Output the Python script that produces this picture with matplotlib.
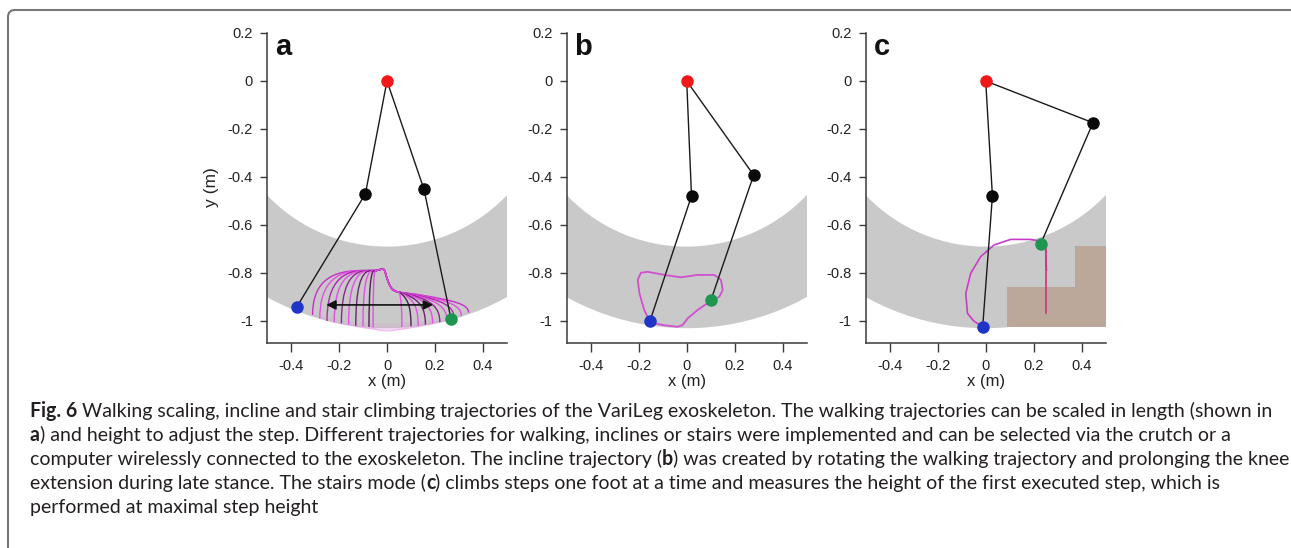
import matplotlib
matplotlib.use('Agg')
import matplotlib.pyplot as plt
from matplotlib.patches import Wedge, Polygon, FancyBboxPatch, PathPatch
from matplotlib.path import Path
from matplotlib.transforms import IdentityTransform

# ---- data (metres, hip at the origin) ----
x_ticks = [-0.4, -0.2, 0, 0.2, 0.4]
x_tick_labels = ['-0.4', '-0.2', '0', '0.2', '0.4']
y_ticks = [0.2, 0, -0.2, -0.4, -0.6, -0.8, -1.0]
y_tick_labels = ['0.2', '0', '-0.2', '-0.4', '-0.6', '-0.8', '-1']

# reachable workspace of the foot (annulus around the hip)
workspace_r_outer = 1.03
workspace_r_inner = 0.69

# leg posture: hip, knee1, foot1, knee2, foot2
legs_a = {'hip': (0, 0), 'knee1': (-0.09, -0.47), 'foot1': (-0.375, -0.94),
          'knee2': (0.154, -0.451), 'foot2': (0.267, -0.993)}
legs_b = {'hip': (0, 0), 'knee1': (0.02, -0.479), 'foot1': (-0.153, -1.0),
          'knee2': (0.279, -0.392), 'foot2': (0.101, -0.913)}
legs_c = {'hip': (0, 0), 'knee1': (0.028, -0.479), 'foot1': (-0.0125, -1.024),
          'knee2': (0.447, -0.174), 'foot2': (0.229, -0.679)}

# panel a: family of scaled walking trajectories
walk_rear_x = [-0.31, -0.28, -0.25, -0.22, -0.19, -0.16, -0.13, -0.10, -0.075, -0.058]
walk_rear_y = [-0.975, -0.99, -1.0, -1.005, -1.01, -1.015, -1.02, -1.022, -1.025, -1.027]
walk_front_x = [0.34, 0.31, 0.28, 0.25, 0.22, 0.19, 0.16, 0.13, 0.10, 0.062]
walk_front_y = [-0.965, -0.98, -0.99, -1.0, -1.005, -1.01, -1.015, -1.02, -1.022, -1.025]
walk_top = (-0.045, -0.79)
walk_peak = (-0.02, -0.775)
walk_knee_dip = (0.05, -0.88)
walk_front_top_y = -0.915
stride_arrow = (-0.253, 0.192, -0.933)

# panel b: incline trajectory (closed loop)
incline_x = [-0.155, -0.177, -0.197, -0.204, -0.191, -0.163, -0.093, -0.024, 0.046, 0.115,
             0.143, 0.150, 0.136, 0.095, 0.046, 0.004, -0.017, -0.038, -0.093, -0.134, -0.155]
incline_y = [-0.999, -0.954, -0.885, -0.829, -0.799, -0.795, -0.808, -0.818, -0.808, -0.808,
             -0.829, -0.871, -0.899, -0.920, -0.954, -0.989, -1.017, -1.024, -1.018, -1.010, -0.999]

# panel c: stair trajectory and the stairs
stair_x = [-0.0125, -0.05, -0.076, -0.083, -0.0625, -0.021, 0.035, 0.104, 0.188, 0.236,
           0.250, 0.253]
stair_y = [-1.024, -1.0, -0.968, -0.885, -0.801, -0.732, -0.683, -0.660, -0.660, -0.669,
           -0.704, -0.7875]
stair_drop_x = [0.253, 0.253]
stair_drop_y = [-0.70, -0.968]
steps_x = [0.09, 0.09, 0.371, 0.371, 0.5, 0.5]
steps_y = [-1.024, -0.857, -0.857, -0.6875, -0.6875, -1.024]

caption_lines = [
    [('Fig. 6', True), (' Walking scaling, incline and stair climbing trajectories of the VariLeg '
                        'exoskeleton. The walking trajectories can be scaled in length (shown in', False)],
    [('a', True), (') and height to adjust the step. Different trajectories for walking, inclines or '
                   'stairs were implemented and can be selected via the crutch or a', False)],
    [('computer wirelessly connected to the exoskeleton. The incline trajectory (', False), ('b', True),
     (') was created by rotating the walking trajectory and prolonging the knee', False)],
    [('extension during late stance. The stairs mode (', False), ('c', True),
     (') climbs steps one foot at a time and measures the height of the first executed step, which is',
      False)],
    [('performed at maximal step height', False)],
]

W, H = 1291, 548
plt.rcParams['font.family'] = ['Liberation Sans', 'DejaVu Sans']

fig = plt.figure(figsize=(W / 100, H / 100), dpi=100)

BAND = '#c9c9c9'
AX_COL = '#3a3a3a'


def make_axes(left_px, letter, ylabel=False):
    ax = fig.add_axes([left_px / W, 1 - 343 / H, 240 / W, 310 / H])
    ax.set_xlim(-0.5, 0.5)
    ax.set_ylim(-1.0917, 0.2)
    for s in ['top', 'right']:
        ax.spines[s].set_visible(False)
    for s in ['left', 'bottom']:
        ax.spines[s].set_color(AX_COL)
        ax.spines[s].set_linewidth(1.1)
    ax.set_xticks(x_ticks, labels=x_tick_labels)
    ax.set_yticks(y_ticks, labels=y_tick_labels)
    ax.tick_params(axis='x', direction='out', length=6.5, width=1.0, color=AX_COL,
                   labelsize=10.5, pad=5, labelcolor='#222222')
    ax.tick_params(axis='y', direction='out', length=5, width=1.0, color=AX_COL,
                   labelsize=10.5, pad=5, labelcolor='#222222')
    ax.patch.set_visible(False)
    ax.text(0.5, -0.1226, 'x (m)', transform=ax.transAxes, ha='center', va='center',
            fontsize=12, color='#222222')
    if ylabel:
        ax.text(-0.233, 0.503, 'y (m)', transform=ax.transAxes, ha='center', va='center',
                rotation=90, fontsize=12.5, color='#222222')
    ax.text(0.068, 0.955, letter, transform=ax.transAxes, ha='center', va='center',
            fontsize=21, fontweight='bold', color='#111111')
    band = Wedge((0, 0), workspace_r_outer, 180, 360,
                 width=workspace_r_outer - workspace_r_inner, facecolor=BAND,
                 edgecolor='none', zorder=0)
    ax.add_patch(band)
    return ax


def draw_legs(ax, legs):
    hx, hy = legs['hip']
    for k, f in [('knee1', 'foot1'), ('knee2', 'foot2')]:
        ax.plot([hx, legs[k][0], legs[f][0]], [hy, legs[k][1], legs[f][1]],
                color='#1a1a1a', lw=1.0, zorder=4)
        ax.plot(*legs[k], 'o', color='#0a0a0a', ms=8, zorder=5, clip_on=False)
    ax.plot(hx, hy, 'o', color='#f01818', ms=8, zorder=5, clip_on=False)
    ax.plot(*legs['foot1'], 'o', color='#1f35c8', ms=8, zorder=5, clip_on=False)
    ax.plot(*legs['foot2'], 'o', color='#1e9650', ms=8, zorder=5, clip_on=False)


# ---- panel a ----
ax_a = make_axes(267, 'a', ylabel=True)
n = len(walk_rear_x)
tx, ty = walk_top
px, py = walk_peak
dx, dy = walk_knee_dip
fy = walk_front_top_y
for i in range(n):
    xs, ys = walk_rear_x[i], walk_rear_y[i]
    xe, ye = walk_front_x[i], walk_front_y[i]
    wl = tx - xs
    wr = xe - dx
    verts = [(xs, ys),
             # rear rise with a rounded corner into the flat top
             (xs, ys + 0.65 * (ty - ys)), (xs + 0.22 * wl, ty), (xs + 0.75 * wl, ty),
             (tx, ty),
             # toe clearance bump, then drop towards the knee extension
             (px, py - 0.01), (px + 0.005, py), (px + 0.012, py - 0.02),
             (px + 0.03, dy + 0.02), (dx - 0.03, dy + 0.005), (dx, dy),
             # forward reach with rounded corner down onto the floor
             (dx + 0.25 * wr, dy + 0.25 * (fy - dy)),
             (xe - 0.2 * wr, fy), (xe, fy + 0.3 * (ye - fy)),
             (xe, ye)]
    codes = [Path.MOVETO, Path.CURVE4, Path.CURVE4, Path.CURVE4, Path.LINETO,
             Path.CURVE4, Path.CURVE4, Path.CURVE4, Path.CURVE4, Path.CURVE4, Path.CURVE4,
             Path.LINETO, Path.CURVE4, Path.CURVE4, Path.CURVE4]
    t = i / (n - 1)
    if i % 2 == 0:
        col = (0.78 * (1 - t) + 0.28 * t, 0.18 * (1 - t) + 0.1 * t, 0.78 * (1 - t) + 0.3 * t)
    else:
        col = (0.9, 0.3, 0.9)
    ax_a.add_patch(PathPatch(Path(verts, codes), facecolor='none', edgecolor=col,
                             lw=1.0, zorder=2))
    stance = Path([(xe, ye), (0, -1.06), (xs, ys)], [Path.MOVETO, Path.CURVE3, Path.CURVE3])
    ax_a.add_patch(PathPatch(stance, facecolor='none', edgecolor='#e080e0', lw=0.8,
                             alpha=0.18, zorder=2))
ax_a.annotate('', xy=(stride_arrow[1], stride_arrow[2]), xytext=(stride_arrow[0], stride_arrow[2]),
              arrowprops=dict(arrowstyle='<|-|>', color='#111111', lw=1.2, mutation_scale=14,
                              shrinkA=0, shrinkB=0), zorder=3)
draw_legs(ax_a, legs_a)

# ---- panel b ----
ax_b = make_axes(566.7, 'b')
ax_b.plot(incline_x, incline_y, color='#d24fd2', lw=1.3, zorder=2)
draw_legs(ax_b, legs_b)

# ---- panel c ----
ax_c = make_axes(865.7, 'c')
ax_c.add_patch(Polygon(list(zip(steps_x, steps_y)), closed=True, facecolor='#bba89b',
                       edgecolor='none', zorder=1))
ax_c.plot(stair_x, stair_y, color='#c83cc8', lw=1.2, zorder=2)
ax_c.plot(stair_drop_x, stair_drop_y, color='#d8307a', lw=1.2, zorder=2)
draw_legs(ax_c, legs_c)

# ---- frame around figure + caption ----
frame = FancyBboxPatch((8, -30), 1300 - 8, (H - 10) + 30,
                       boxstyle='round,pad=0,rounding_size=7', transform=IdentityTransform(),
                       facecolor='none', edgecolor='#777777', lw=1.5)
fig.patches.append(frame)

renderer = fig.canvas.get_renderer()
cap_family = ['Lato', 'DejaVu Sans']


def draw_runs(runs, x_px, y_px, size):
    made = []
    for txt, bold in runs:
        t = fig.text(x_px / W, 1 - y_px / H, txt, fontsize=size, family=cap_family,
                     fontweight='bold' if bold else 'normal', va='baseline', ha='left',
                     color='#231f20')
        made.append(t)
        x_px += t.get_window_extent(renderer).width
    return x_px, made


end, tmp = draw_runs(caption_lines[0], 30, 417, 12)
cap_size = 12 * (1268 - 30) / (end - 30)
for t in tmp:
    t.remove()
for j, runs in enumerate(caption_lines):
    draw_runs(runs, 30, 417 + 24 * j, cap_size)

fig.savefig('out.png', dpi=100)
